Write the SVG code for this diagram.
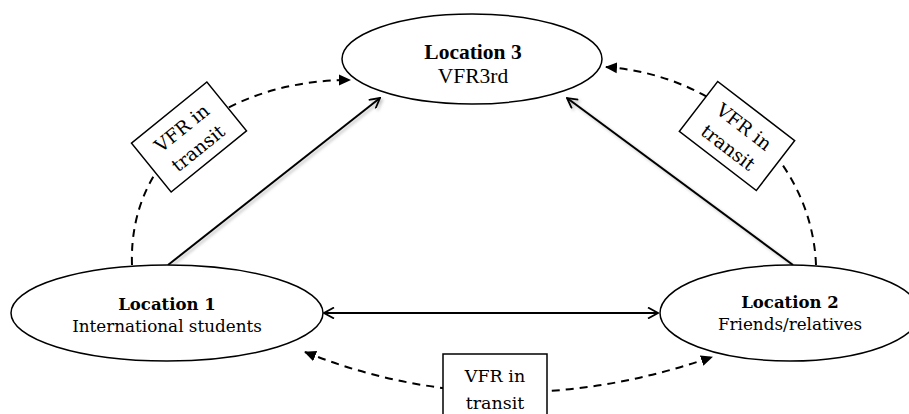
<svg xmlns="http://www.w3.org/2000/svg" width="909" height="414" viewBox="0 0 909 414">
  <style>
    .node { fill: #fff; stroke: #000; stroke-width: 1.5; }
    .box { fill: #fff; stroke: #000; stroke-width: 1.5; }
    .solid { fill: none; stroke: #000; stroke-width: 2; }
    .dash { fill: none; stroke: #000; stroke-width: 2; stroke-dasharray: 8 6; }
    .t { font-family: "DejaVu Serif", "Liberation Serif", serif; fill: #000; text-anchor: middle; }
    .tt { font-family: "Liberation Serif", "Times New Roman", serif; fill: #000; text-anchor: middle; }
    .b { font-weight: bold; }
  </style>
  <defs>
    <marker id="open" viewBox="0 0 12 12" refX="11" refY="6" markerWidth="12" markerHeight="12" markerUnits="userSpaceOnUse" orient="auto-start-reverse">
      <path d="M1,0.5 L11,6 L1,11.5" fill="none" stroke="#000" stroke-width="1.8"/>
    </marker>
    <marker id="tri" viewBox="0 0 12 12" refX="11" refY="6" markerWidth="12" markerHeight="12" markerUnits="userSpaceOnUse" orient="auto-start-reverse">
      <path d="M0,0.5 L12,6 L0,11.5 Z" fill="#000"/>
    </marker>
    <filter id="shadow" x="-10%" y="-10%" width="130%" height="130%">
      <feDropShadow dx="2" dy="2" stdDeviation="1.5" flood-color="#000" flood-opacity="0.25"/>
    </filter>
  </defs>

  <!-- connectors -->
  <g id="connectors">
    <path class="dash" d="M132,265 C128,150 230,80 350,80" marker-end="url(#tri)"/>
    <path class="dash" d="M816,265 C812,160 720,75 606,67" marker-end="url(#tri)"/>
    <path class="dash" d="M305,352 Q500,430 712,357" marker-start="url(#tri)" marker-end="url(#tri)"/>
    <line class="solid" x1="168" y1="265" x2="380" y2="98" marker-end="url(#open)" filter="url(#shadow)"/>
    <line class="solid" x1="793" y1="265" x2="567" y2="98" marker-end="url(#open)" filter="url(#shadow)"/>
    <line class="solid" x1="324" y1="313" x2="658" y2="313" marker-start="url(#open)" marker-end="url(#open)"/>
  </g>

  <!-- location nodes -->
  <g id="location3">
    <ellipse class="node" cx="472" cy="59" rx="130" ry="45"/>
    <text class="tt b" x="473" y="59" font-size="21.5">Location 3</text>
    <text class="tt" x="473" y="83" font-size="21.5">VFR3rd</text>
  </g>
  <g id="location1">
    <ellipse class="node" cx="167" cy="313" rx="156" ry="48"/>
    <text class="t b" x="167" y="310" font-size="16.5">Location 1</text>
    <text class="t" x="167" y="332" font-size="16.8">International students</text>
  </g>
  <g id="location2">
    <ellipse class="node" cx="790" cy="313" rx="130" ry="48"/>
    <text class="t b" x="790" y="308" font-size="16.5">Location 2</text>
    <text class="t" x="790" y="330" font-size="16.8">Friends/relatives</text>
  </g>

  <!-- transit labels -->
  <g id="transit-left" transform="translate(189,137) rotate(-39)">
    <rect class="box" x="-48.5" y="-31.5" width="97" height="63"/>
    <text class="t" x="0" y="-5" font-size="18.5">VFR in</text>
    <text class="t" x="0" y="21" font-size="18.5">transit</text>
  </g>
  <g id="transit-right" transform="translate(737,136) rotate(37.5)">
    <rect class="box" x="-48.5" y="-31.5" width="97" height="63"/>
    <text class="t" x="0" y="-5" font-size="18.5">VFR in</text>
    <text class="t" x="0" y="21" font-size="18.5">transit</text>
  </g>
  <g id="transit-bottom">
    <rect class="box" x="443" y="354" width="104" height="66"/>
    <text class="t" x="495" y="382" font-size="17.5">VFR in</text>
    <text class="t" x="495" y="409" font-size="17.5">transit</text>
  </g>
</svg>
